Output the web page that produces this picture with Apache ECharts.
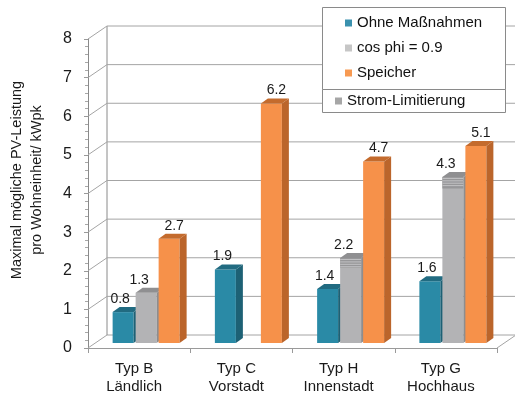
<!DOCTYPE html>
<html>
<head>
<meta charset="utf-8">
<script src="https://cdn.jsdelivr.net/npm/echarts@6/dist/echarts.min.js"></script>
<style>
  html, body { margin: 0; padding: 0; background: #fff; }
  #chart { width: 515px; height: 396px; }
</style>
</head>
<body>
<div id="chart"></div>
<script>
// values
const categories = ['Typ B\nLändlich', 'Typ C\nVorstadt', 'Typ H\nInnenstadt', 'Typ G\nHochhaus']
const ohneMassnahmen = [0.8, 1.9, 1.4, 1.6]
const cosPhi = [1.3, null, 2.2, 4.3]
const speicher = [2.7, 6.2, 4.7, 5.1]
// height of the striped band at the top of the grey bars
const stromLimitierung = [null, null, 0.25, 0.3]
const yTicks = [0, 1, 2, 3, 4, 5, 6, 7, 8]

// fake 3d geometry
const WALL_DX = 19, WALL_DY = -13
const OFF_X = 7, OFF_Y = -5
const DEPTH_X = 7, DEPTH_Y = -5
const BAR_W = 21, SLOT = 23
const FONT = '"Liberation Sans", Arial, sans-serif'

function toData (values) {
  const out = []
  values.forEach((v, i) => { if (v != null) out.push([i, v]) })
  return out
}

function barRenderer (slot, front, side, top, labelDx) {
  return function (params, api) {
    const idx = api.value(0)
    const v = api.value(1)
    const p = api.coord([idx, v])
    const b = api.coord([idx, 0])
    const cx = p[0] + OFF_X + slot * SLOT
    const x = cx - BAR_W / 2
    const yT = p[1] + OFF_Y
    const yB = b[1] + OFF_Y
    const z2 = slot + 2
    return {
      type: 'group',
      children: [
        { type: 'rect', z2: z2, shape: { x: x, y: yT, width: BAR_W, height: yB - yT }, style: { fill: front } },
        { type: 'polygon', z2: z2, shape: { points: [[x + BAR_W, yT], [x + BAR_W + DEPTH_X, yT + DEPTH_Y], [x + BAR_W + DEPTH_X, yB + DEPTH_Y], [x + BAR_W, yB]] }, style: { fill: side } },
        { type: 'polygon', z2: z2, shape: { points: [[x, yT], [x + DEPTH_X, yT + DEPTH_Y], [x + BAR_W + DEPTH_X, yT + DEPTH_Y], [x + BAR_W, yT]] }, style: { fill: top } },
        { type: 'text', z2: 100, style: { text: v.toFixed(1), x: cx + labelDx, y: yT - 13, fill: '#1a1a1a', font: '14px ' + FONT, align: 'center', verticalAlign: 'middle' } }
      ]
    }
  }
}

const chart = echarts.init(document.getElementById('chart'))

chart.setOption({
  animation: false,
  grid: { left: 88, right: 18, top: 39, bottom: 48 },
  graphic: [
    { type: 'rect', z: 50, shape: { x: 322.5, y: 7.5, width: 183, height: 82 }, style: { fill: '#fff', stroke: '#8a8a8a', lineWidth: 1 } },
    { type: 'rect', z: 50, shape: { x: 322.5, y: 89.5, width: 183, height: 23 }, style: { fill: '#fff', stroke: '#8a8a8a', lineWidth: 1 } },
    {
      type: 'text', z: 50, x: 27, y: 180, rotation: Math.PI / 2,
      style: { text: 'Maximal mögliche PV-Leistung\npro Wohneinheit/ kWpk', font: '14.5px ' + FONT, fill: '#1a1a1a', align: 'center', verticalAlign: 'middle', lineHeight: 20 }
    }
  ],
  legend: [
    {
      z: 60, data: ['Ohne Maßnahmen', 'cos phi = 0.9', 'Speicher'],
      orient: 'vertical', left: 345, top: 15, padding: 0, itemGap: 9,
      itemWidth: 7, itemHeight: 7, icon: 'rect', selectedMode: false,
      textStyle: { fontSize: 15, lineHeight: 16, color: '#111', fontFamily: FONT }
    },
    {
      z: 60, data: ['Strom-Limitierung'],
      orient: 'vertical', left: 335, top: 93, padding: 0,
      itemWidth: 7, itemHeight: 7, icon: 'rect', selectedMode: false,
      textStyle: { fontSize: 15, lineHeight: 16, color: '#111', fontFamily: FONT }
    }
  ],
  xAxis: {
    type: 'category',
    data: categories,
    axisLine: { lineStyle: { color: '#9a9a9a' } },
    axisTick: { show: true, length: 5, lineStyle: { color: '#9a9a9a' } },
    axisLabel: { fontSize: 15, lineHeight: 18, margin: 12, color: '#1a1a1a', fontFamily: FONT, padding: [0, 10, 0, 0] }
  },
  yAxis: {
    type: 'value',
    min: 0,
    max: 8,
    interval: 1,
    axisLine: { show: true, lineStyle: { color: '#8a8a8a' } },
    axisTick: { show: true, length: 4, lineStyle: { color: '#9a9a9a' } },
    minorTick: { show: true, splitNumber: 5, length: 3, lineStyle: { color: '#a8a8a8' } },
    axisLabel: { fontSize: 16, margin: 16, color: '#1a1a1a', fontFamily: FONT },
    splitLine: { show: false }
  },
  series: [
    {
      name: 'wall',
      type: 'custom',
      silent: true,
      z: 1,
      data: yTicks.map(v => [0, v]),
      renderItem: function (params, api) {
        const cs = params.coordSys
        const v = api.value(1)
        const y = api.coord([0, v])[1]
        const x0 = cs.x, x1 = cs.x + cs.width
        const line = { stroke: '#a4a4a4', lineWidth: 1, fill: 'none' }
        const children = [
          { type: 'polyline', shape: { points: [[x0, y], [x0 + WALL_DX, y + WALL_DY], [x1 + WALL_DX, y + WALL_DY]] }, style: line }
        ]
        if (v === 0) {
          const yTop = api.coord([0, yTicks[yTicks.length - 1]])[1]
          children.push({ type: 'line', shape: { x1: x1, y1: y, x2: x1 + WALL_DX, y2: y + WALL_DY }, style: line })
          children.push({ type: 'line', shape: { x1: x0 + WALL_DX, y1: y + WALL_DY, x2: x0 + WALL_DX, y2: yTop + WALL_DY }, style: { stroke: '#8a8a8a', lineWidth: 1, fill: 'none' } })
        }
        return { type: 'group', children: children }
      }
    },
    {
      name: 'Ohne Maßnahmen',
      type: 'custom',
      z: 2,
      itemStyle: { color: '#3a91ae' },
      data: toData(ohneMassnahmen),
      renderItem: barRenderer(-1, '#2a8aa6', '#1d6175', '#216b81', -3)
    },
    {
      name: 'cos phi = 0.9',
      type: 'custom',
      z: 2,
      itemStyle: { color: '#c6c6c6' },
      data: toData(cosPhi),
      renderItem: barRenderer(0, '#b3b3b5', '#8d8d8f', '#8f8f91', -7)
    },
    {
      name: 'Speicher',
      type: 'custom',
      z: 2,
      itemStyle: { color: '#f79a52' },
      data: toData(speicher),
      renderItem: barRenderer(1, '#f6914a', '#bb652b', '#c46b2d', 5)
    },
    {
      name: 'Strom-Limitierung',
      type: 'custom',
      z: 2,
      itemStyle: { color: '#a6a6a6' },
      data: stromLimitierung.map((s, i) => s != null ? [i, cosPhi[i], s] : null).filter(d => d),
      renderItem: function (params, api) {
        const idx = api.value(0)
        const v = api.value(1)
        const band = api.value(2)
        const p = api.coord([idx, v])
        const q = api.coord([idx, v - band])
        const cx = p[0] + OFF_X
        const x = cx - BAR_W / 2
        const yT = p[1] + OFF_Y
        const yB = q[1] + OFF_Y
        const children = [
          { type: 'rect', z2: 50, shape: { x: x, y: yT, width: BAR_W, height: yB - yT }, style: { fill: '#979799' } }
        ]
        for (let yy = yT + 1.5; yy < yB - 0.5; yy += 2.4) {
          children.push({ type: 'line', z2: 51, shape: { x1: x, y1: yy, x2: x + BAR_W, y2: yy }, style: { stroke: '#c2c2c4', lineWidth: 1 } })
        }
        return { type: 'group', children: children }
      }
    }
  ]
})
</script>
</body>
</html>
